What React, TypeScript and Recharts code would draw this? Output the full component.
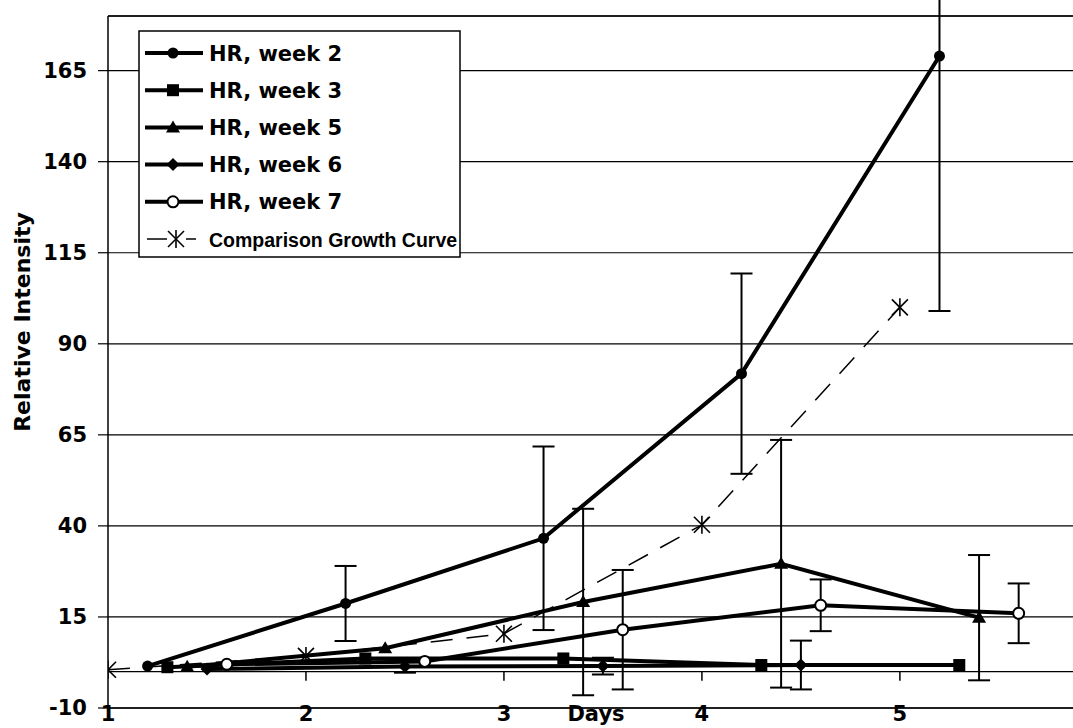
import React from 'react';
import {
  ComposedChart,
  Line,
  XAxis,
  YAxis,
  CartesianGrid,
  ReferenceLine,
  ErrorBar,
  Legend,
} from 'recharts';

// values (days, relative intensity, +/- error)
const week2Days = [1.2, 2.2, 3.2, 4.2, 5.2];
const week2Values = [1.5, 18.7, 36.6, 81.8, 169];
const week2Errors = [0, 10.3, 25.2, 27.5, 70];

const week3Days = [1.3, 2.3, 3.3, 4.3, 5.3];
const week3Values = [1.2, 3.6, 3.6, 1.8, 1.8];

const week5Days = [1.4, 2.4, 3.4, 4.4, 5.4];
const week5Values = [1.3, 6.4, 19.1, 29.6, 14.8];
const week5Errors = [0, 0, 25.6, 34, 17.2];

const week6Days = [1.5, 2.5, 3.5, 4.5];
const week6Values = [0.7, 1.4, 1.5, 1.8];
const week6Errors = [0, 1.7, 2.3, 6.7];

const week7Days = [1.6, 2.6, 3.6, 4.6, 5.6];
const week7Values = [2.0, 2.8, 11.5, 18.2, 16];
const week7Errors = [0, 0, 16.4, 7.1, 8.2];

const growthDays = [1, 2, 3, 4, 5];
const growthValues = [0.5, 4.3, 10.4, 40.3, 100];

const xTicks = [1, 2, 3, 4, 5];
const yTicks = [-10, 15, 40, 65, 90, 115, 140, 165];

const legendLabels = [
  'HR, week 2',
  'HR, week 3',
  'HR, week 5',
  'HR, week 6',
  'HR, week 7',
  'Comparison Growth Curve',
];
const legendMarkers = ['circle', 'square', 'triangle', 'diamond', 'open', 'star'];

const toPoints = (xs: number[], ys: number[], errs?: number[]) =>
  xs.map((x, i) => ({ x, y: ys[i], err: errs ? errs[i] : 0 }));

const week2 = toPoints(week2Days, week2Values, week2Errors);
const week3 = toPoints(week3Days, week3Values);
const week5 = toPoints(week5Days, week5Values, week5Errors);
const week6 = toPoints(week6Days, week6Values, week6Errors);
const week7 = toPoints(week7Days, week7Values, week7Errors);
const growth = toPoints(growthDays, growthValues);

const FONT = 'DejaVu Sans';
const LINE_W = 4;

const markerShape = (kind: string, cx: number, cy: number, key?: string) => {
  switch (kind) {
    case 'circle':
      return <circle key={key} cx={cx} cy={cy} r={5.5} fill="#000" />;
    case 'square':
      return <rect key={key} x={cx - 6} y={cy - 6} width={12} height={12} fill="#000" />;
    case 'triangle':
      return (
        <polygon key={key} points={`${cx},${cy - 7} ${cx + 7},${cy + 5} ${cx - 7},${cy + 5}`} fill="#000" />
      );
    case 'diamond':
      return (
        <polygon
          key={key}
          points={`${cx},${cy - 6.5} ${cx + 6.5},${cy} ${cx},${cy + 6.5} ${cx - 6.5},${cy}`}
          fill="#000"
        />
      );
    case 'open':
      return <circle key={key} cx={cx} cy={cy} r={5.5} fill="#fff" stroke="#000" strokeWidth={2} />;
    default:
      return (
        <g key={key} stroke="#000" strokeWidth={1.6}>
          <line x1={cx} y1={cy - 9} x2={cx} y2={cy + 9} />
          <line x1={cx - 8} y1={cy - 8} x2={cx + 8} y2={cy + 8} />
          <line x1={cx - 8} y1={cy + 8} x2={cx + 8} y2={cy - 8} />
        </g>
      );
  }
};

const dotOf = (kind: string) => (p: any) => markerShape(kind, p.cx, p.cy, `${kind}-${p.index}`);

const LegendBox = () => (
  <svg width={323} height={228} style={{ display: 'block' }}>
    <rect x={1} y={1} width={321} height={226} fill="#fff" stroke="#000" strokeWidth={1.5} />
    {legendLabels.map((label, i) => {
      const cy = 23 + i * 37.2;
      const dashed = legendMarkers[i] === 'star';
      return (
        <g key={label}>
          {dashed ? (
            <>
              <line x1={9} x2={29} y1={cy} y2={cy} stroke="#000" strokeWidth={1.5} />
              <line x1={48} x2={58} y1={cy} y2={cy} stroke="#000" strokeWidth={1.5} />
            </>
          ) : (
            <line x1={7} x2={65} y1={cy} y2={cy} stroke="#000" strokeWidth={LINE_W} />
          )}
          {markerShape(legendMarkers[i], dashed ? 38 : 35, cy)}
          <text
            x={71}
            y={cy + 7.5}
            fontFamily={dashed ? 'Liberation Sans' : FONT}
            fontWeight="bold"
            fontSize={dashed ? 19.5 : 21}
            fill="#000"
          >
            {label}
          </text>
        </g>
      );
    })}
  </svg>
);

const yTitle = (props: any) => {
  const vb = props.viewBox;
  const x = vb.x + 22;
  const y = vb.y + vb.height / 2 - 40;
  return (
    <text
      x={x}
      y={y}
      transform={`rotate(-90 ${x} ${y})`}
      textAnchor="middle"
      dominantBaseline="central"
      fontFamily={FONT}
      fontWeight="bold"
      fontSize={22}
      fill="#000"
    >
      Relative Intensity
    </text>
  );
};

const xTitle = (props: any) => {
  const vb = props.viewBox;
  return (
    <text
      x={vb.x + vb.width / 2}
      y={vb.y + 13}
      textAnchor="middle"
      fontFamily={FONT}
      fontWeight="bold"
      fontSize={21}
      fill="#000"
    >
      Days
    </text>
  );
};

const tickFont = { fill: '#000', fontSize: 21, fontWeight: 'bold', fontFamily: FONT };

export default function App() {
  return (
    <div
      style={{
        position: 'fixed',
        left: 0,
        top: 0,
        width: 1073,
        height: 728,
        overflow: 'hidden',
        background: '#fff',
      }}
    >
      <ComposedChart
        width={1100}
        height={760}
        margin={{ top: 16, right: 16, bottom: 22, left: 0 }}
        style={{ fontFamily: FONT }}
      >
        <CartesianGrid vertical={false} stroke="#000" strokeWidth={1.2} />
        <XAxis
          type="number"
          dataKey="x"
          domain={[1, 5.93]}
          ticks={xTicks}
          interval={0}
          allowDataOverflow
          height={30}
          tickLine={false}
          tickSize={0}
          tickMargin={-2}
          axisLine={{ stroke: '#000', strokeWidth: 1.5 }}
          tick={tickFont}
          label={xTitle}
        />
        <YAxis
          type="number"
          domain={[-10, 180]}
          ticks={yTicks}
          interval={0}
          allowDataOverflow
          width={108}
          tickSize={10}
          tickMargin={11}
          axisLine={{ stroke: '#000', strokeWidth: 1.5 }}
          tickLine={{ stroke: '#000', strokeWidth: 1.2 }}
          tick={tickFont}
          label={yTitle}
        />
        <ReferenceLine y={180} stroke="#000" strokeWidth={1.5} />
        <ReferenceLine y={0} stroke="#000" strokeWidth={1.2} />
        {xTicks.slice(1).map((t) => (
          <ReferenceLine
            key={`xt-${t}`}
            segment={[
              { x: t, y: 0 },
              { x: t, y: -2.5 },
            ]}
            stroke="#000"
            strokeWidth={1.5}
          />
        ))}
        <Legend
          layout="vertical"
          align="center"
          verticalAlign="middle"
          wrapperStyle={{ left: 138, top: 30, width: 323, height: 228 }}
          content={() => <LegendBox />}
        />
        <Line
          data={growth}
          dataKey="y"
          stroke="#000"
          strokeWidth={1.5}
          strokeDasharray="22 14"
          dot={dotOf('star')}
          activeDot={false}
          isAnimationActive={false}
        />
        <Line
          data={week6}
          dataKey="y"
          stroke="#000"
          strokeWidth={LINE_W}
          dot={dotOf('diamond')}
          activeDot={false}
          isAnimationActive={false}
        >
          <ErrorBar dataKey="err" width={11} stroke="#000" strokeWidth={2} direction="y" />
        </Line>
        <Line
          data={week3}
          dataKey="y"
          stroke="#000"
          strokeWidth={LINE_W}
          dot={dotOf('square')}
          activeDot={false}
          isAnimationActive={false}
        />
        <Line
          data={week7}
          dataKey="y"
          stroke="#000"
          strokeWidth={LINE_W}
          dot={dotOf('open')}
          activeDot={false}
          isAnimationActive={false}
        >
          <ErrorBar dataKey="err" width={11} stroke="#000" strokeWidth={2} direction="y" />
        </Line>
        <Line
          data={week5}
          dataKey="y"
          stroke="#000"
          strokeWidth={LINE_W}
          dot={dotOf('triangle')}
          activeDot={false}
          isAnimationActive={false}
        >
          <ErrorBar dataKey="err" width={11} stroke="#000" strokeWidth={2} direction="y" />
        </Line>
        <Line
          data={week2}
          dataKey="y"
          stroke="#000"
          strokeWidth={LINE_W}
          dot={dotOf('circle')}
          activeDot={false}
          isAnimationActive={false}
        >
          <ErrorBar dataKey="err" width={11} stroke="#000" strokeWidth={2} direction="y" />
        </Line>
      </ComposedChart>
    </div>
  );
}
